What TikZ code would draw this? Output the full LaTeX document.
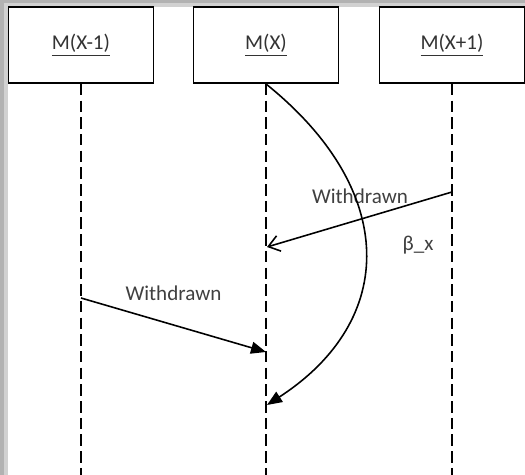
\documentclass[tikz,border=0pt]{standalone}
\usepackage{fontspec}
\setmainfont{Carlito}
\usepackage{tikz}
\usetikzlibrary{arrows.meta,positioning,calc}
\tikzset{
  obj/.style={draw, line width=1.1pt, minimum width=2.9cm, minimum height=1.52cm,
              fill=white, font=\fontsize{12}{14}\selectfont, text=black!80},
  life/.style={line width=1.1pt, dash pattern=on 6.5pt off 3pt},
  msg/.style={-{Triangle[length=3mm,width=2.4mm]}, line width=0.9pt},
  ret/.style={-{Straight Barb[length=2.2mm,width=3.2mm]}, line width=0.9pt},
  lbl/.style={font=\fontsize{12}{14}\selectfont, text=black!75},
}

\begin{document}
\begin{tikzpicture}[x=0.02cm, y=-0.02cm]
  % frame
  \fill[black!30] (0,0) rectangle (525,475);
  \fill[black!18] (4,3) rectangle (525,475);
  \fill[white] (8,7) rectangle (525,475);
  \useasboundingbox (0,0) rectangle (525,475);
  % objects
  \node[obj] (mprev) at (81,45) {\underline{M(X-1)}};
  \node[obj] (mcur)  at (266,45) {\underline{M(X)}};
  \node[obj] (mnext) at (452,45) {\underline{M(X+1)}};
  \coordinate (endprev) at (81,475);
  \coordinate (endcur)  at (266,475);
  \coordinate (endnext) at (452,475);
  \draw[life] (mprev.south) -- (endprev);
  \draw[life] (mcur.south) -- (endcur);
  \draw[life] (mnext.south) -- (endnext);
  % messages
  \coordinate (sprev) at (81,298);
  \coordinate (rcur1) at (266,352);
  \coordinate (snext) at (452,192);
  \coordinate (rcur2) at (267,247);
  \coordinate (rcur3) at (267,405);
  \draw[msg] (sprev) -- node[lbl, above=10pt, pos=0.5] {Withdrawn} (rcur1);
  \draw[ret] (snext) -- (rcur2);
  \node[lbl] (wnext) at (360,196) {Withdrawn};
  \node[lbl] (beta) at (418,245) {β\_x};
  \draw[msg] (mcur.south) .. controls (398,190) and (398,320) .. (rcur3);
\end{tikzpicture}
\end{document}
